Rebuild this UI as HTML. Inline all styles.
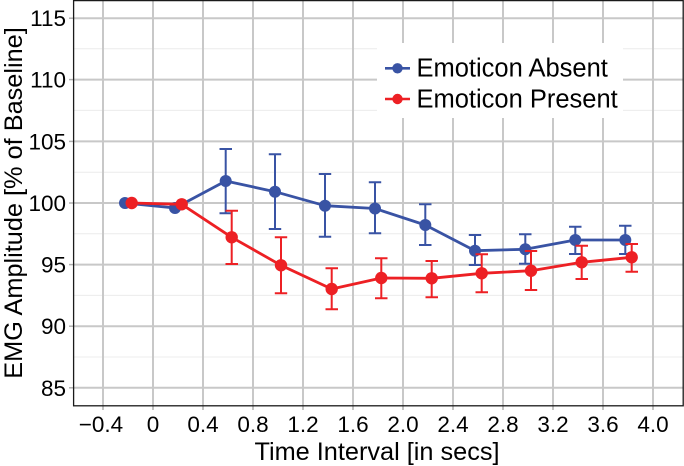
<!DOCTYPE html>
<html><head><meta charset="utf-8"><style>
html,body{margin:0;padding:0;background:#fff;}
svg{display:block;font-family:"Liberation Sans",Arial,sans-serif;}
</style></head><body>
<svg width="684" height="466" viewBox="0 0 684 466" xmlns="http://www.w3.org/2000/svg">
<rect x="0" y="0" width="684" height="466" fill="#fff"/>
<!-- minor horizontal gridlines -->
<g stroke="#ececec" stroke-width="1">
<line x1="74" y1="48.8" x2="683" y2="48.8"/>
<line x1="74" y1="110.4" x2="683" y2="110.4"/>
<line x1="74" y1="172.2" x2="683" y2="172.2"/>
<line x1="74" y1="233.8" x2="683" y2="233.8"/>
<line x1="74" y1="295.4" x2="683" y2="295.4"/>
<line x1="74" y1="357" x2="683" y2="357"/>
</g>
<!-- major gridlines -->
<g stroke="#c8c8c8" stroke-width="2">
<line x1="74" y1="18.2" x2="683" y2="18.2"/>
<line x1="74" y1="79.6" x2="683" y2="79.6"/>
<line x1="74" y1="141.4" x2="683" y2="141.4"/>
<line x1="74" y1="203" x2="683" y2="203"/>
<line x1="74" y1="264.6" x2="683" y2="264.6"/>
<line x1="74" y1="326.2" x2="683" y2="326.2"/>
<line x1="74" y1="387.8" x2="683" y2="387.8"/>
<line x1="103" y1="0" x2="103" y2="406"/>
<line x1="153" y1="0" x2="153" y2="406"/>
<line x1="203" y1="0" x2="203" y2="406"/>
<line x1="253" y1="0" x2="253" y2="406"/>
<line x1="303" y1="0" x2="303" y2="406"/>
<line x1="353" y1="0" x2="353" y2="406"/>
<line x1="403" y1="0" x2="403" y2="406"/>
<line x1="453" y1="0" x2="453" y2="406"/>
<line x1="503" y1="0" x2="503" y2="406"/>
<line x1="553" y1="0" x2="553" y2="406"/>
<line x1="603" y1="0" x2="603" y2="406"/>
<line x1="653" y1="0" x2="653" y2="406"/>
</g>
<!-- ticks -->
<g stroke="#b0b0b0" stroke-width="1.5">
<line x1="103" y1="406" x2="103" y2="410"/>
<line x1="153" y1="406" x2="153" y2="410"/>
<line x1="203" y1="406" x2="203" y2="410"/>
<line x1="253" y1="406" x2="253" y2="410"/>
<line x1="303" y1="406" x2="303" y2="410"/>
<line x1="353" y1="406" x2="353" y2="410"/>
<line x1="403" y1="406" x2="403" y2="410"/>
<line x1="453" y1="406" x2="453" y2="410"/>
<line x1="503" y1="406" x2="503" y2="410"/>
<line x1="553" y1="406" x2="553" y2="410"/>
<line x1="603" y1="406" x2="603" y2="410"/>
<line x1="653" y1="406" x2="653" y2="410"/>
<line x1="69" y1="18.2" x2="73" y2="18.2"/>
<line x1="69" y1="79.6" x2="73" y2="79.6"/>
<line x1="69" y1="141.4" x2="73" y2="141.4"/>
<line x1="69" y1="203" x2="73" y2="203"/>
<line x1="69" y1="264.6" x2="73" y2="264.6"/>
<line x1="69" y1="326.2" x2="73" y2="326.2"/>
<line x1="69" y1="387.8" x2="73" y2="387.8"/>
</g>
<!-- legend -->
<rect x="377" y="43" width="246" height="75" fill="#fff"/>
<line x1="385" y1="68.3" x2="410" y2="68.3" stroke="#3953a4" stroke-width="2.6"/>
<circle cx="397.5" cy="68.3" r="5.2" fill="#3953a4"/>
<line x1="385" y1="99" x2="410" y2="99" stroke="#ed2024" stroke-width="2.6"/>
<circle cx="397.5" cy="99" r="5.2" fill="#ed2024"/>
<text x="416.5" y="76.7" font-size="25.5" fill="#000">Emoticon Absent</text>
<text x="416.5" y="107.4" font-size="25.5" fill="#000">Emoticon Present</text>
<!-- blue series -->
<g stroke="#3953a4" stroke-width="2" fill="none">
<path d="M225.7 149V213.3M219.5 149H232M219.5 213.3H232"/>
<path d="M275 154.3V229M268.8 154.3H281.2M268.8 229H281.2"/>
<path d="M325 174V236.7M318.8 174H331.2M318.8 236.7H331.2"/>
<path d="M375 182.3V233.3M368.8 182.3H381.2M368.8 233.3H381.2"/>
<path d="M425.3 204.3V245M419 204.3H431.5M419 245H431.5"/>
<path d="M475 235V265M468.8 235H481.2M468.8 265H481.2"/>
<path d="M525.3 234.3V263.7M519 234.3H531.5M519 263.7H531.5"/>
<path d="M575.3 226.7V254M569 226.7H581.5M569 254H581.5"/>
<path d="M625.3 225.7V254M619 225.7H631.5M619 254H631.5"/>
</g>
<polyline points="125,203 175,208 225.7,181 275,191.7 325,205.7 375,208.5 425.3,225 475,250.7 525.3,249.3 575.3,240 625.3,240" fill="none" stroke="#3953a4" stroke-width="2.8" stroke-linejoin="round"/>
<g fill="#3953a4">
<circle cx="125" cy="203" r="6"/><circle cx="175" cy="208" r="6"/><circle cx="225.7" cy="181" r="6"/>
<circle cx="275" cy="191.7" r="6"/><circle cx="325" cy="205.7" r="6"/><circle cx="375" cy="208.5" r="6"/>
<circle cx="425.3" cy="225" r="6"/><circle cx="475" cy="250.7" r="6"/><circle cx="525.3" cy="249.3" r="6"/>
<circle cx="575.3" cy="240" r="6"/><circle cx="625.3" cy="240" r="6"/>
</g>
<!-- red series -->
<g stroke="#ed2024" stroke-width="2" fill="none">
<path d="M231.7 210.7V264M225.5 210.7H238M225.5 264H238"/>
<path d="M281 237.3V293.3M274.8 237.3H287.2M274.8 293.3H287.2"/>
<path d="M331.7 268.3V309.3M325.5 268.3H338M325.5 309.3H338"/>
<path d="M381.3 258.3V298.3M375 258.3H387.5M375 298.3H387.5"/>
<path d="M431.7 261V297.3M425.5 261H438M425.5 297.3H438"/>
<path d="M481.7 254.3V292.3M475.5 254.3H488M475.5 292.3H488"/>
<path d="M531 251V290M524.8 251H537.2M524.8 290H537.2"/>
<path d="M581.7 245.7V279M575.5 245.7H588M575.5 279H588"/>
<path d="M631.7 244V271.7M625.5 244H638M625.5 271.7H638"/>
</g>
<polyline points="131.7,203 181.7,204.3 231.7,237.3 281,265.3 331.7,289 381.3,278 431.7,278.3 481.7,273.3 531,270.7 581.7,262.3 631.7,257.3" fill="none" stroke="#ed2024" stroke-width="2.8" stroke-linejoin="round"/>
<g fill="#ed2024">
<circle cx="131.7" cy="203" r="6.2"/><circle cx="181.7" cy="204.3" r="6.2"/><circle cx="231.7" cy="237.3" r="6.2"/>
<circle cx="281" cy="265.3" r="6.2"/><circle cx="331.7" cy="289" r="6.2"/><circle cx="381.3" cy="278" r="6.2"/>
<circle cx="431.7" cy="278.3" r="6.2"/><circle cx="481.7" cy="273.3" r="6.2"/><circle cx="531" cy="270.7" r="6.2"/>
<circle cx="581.7" cy="262.3" r="6.2"/><circle cx="631.7" cy="257.3" r="6.2"/>
</g>
<!-- panel border -->
<rect x="73.6" y="0.6" width="609.6" height="405.2" fill="none" stroke="#1a1a1a" stroke-width="1.3"/>
<!-- y tick labels -->
<g font-size="22.5" fill="#000" text-anchor="end">
<text x="66" y="26.2">115</text>
<text x="66" y="87.6">110</text>
<text x="66" y="149.4">105</text>
<text x="66" y="211">100</text>
<text x="66" y="272.6">95</text>
<text x="66" y="334.2">90</text>
<text x="66" y="395.8">85</text>
</g>
<!-- x tick labels -->
<g font-size="22.5" fill="#000" text-anchor="middle">
<text x="101" y="432">−0.4</text>
<text x="153" y="432">0</text>
<text x="203" y="432">0.4</text>
<text x="253" y="432">0.8</text>
<text x="303" y="432">1.2</text>
<text x="353" y="432">1.6</text>
<text x="403" y="432">2.0</text>
<text x="453" y="432">2.4</text>
<text x="503" y="432">2.8</text>
<text x="553" y="432">3.2</text>
<text x="603" y="432">3.6</text>
<text x="653" y="432">4.0</text>
</g>
<!-- axis titles -->
<text x="377" y="460" font-size="25.3" fill="#000" text-anchor="middle">Time Interval [in secs]</text>
<text transform="translate(22,203) rotate(-90)" x="0" y="0" font-size="25.3" fill="#000" text-anchor="middle">EMG Amplitude [% of Baseline]</text>
</svg>
</body></html>
